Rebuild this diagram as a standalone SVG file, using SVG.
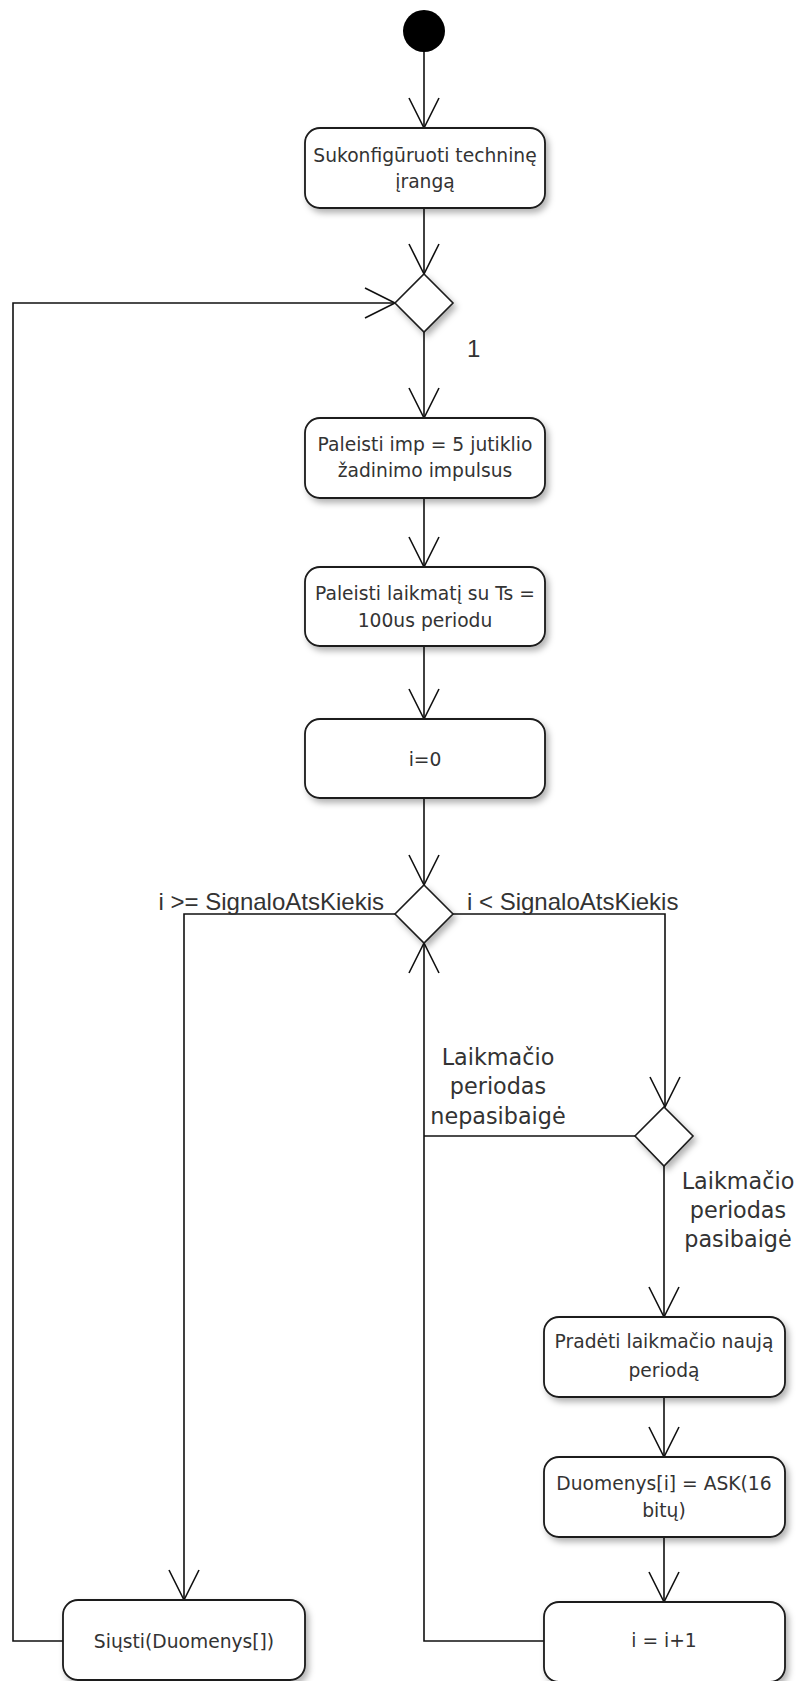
<svg xmlns="http://www.w3.org/2000/svg" width="800" height="1681" viewBox="0 0 800 1681">
  <style>
    .act { fill: #ffffff; stroke: #1a1a1a; stroke-width: 1.8; filter: url(#shadow); }
    .dec { fill: #ffffff; stroke: #1a1a1a; stroke-width: 1.6; filter: url(#shadow); }
    .edge { fill: none; stroke: #111111; stroke-width: 1.6; }
    .arrow { fill: none; stroke: #111111; stroke-width: 1.6; marker-end: url(#open); }
    .txt { font-family: "DejaVu Sans", sans-serif; font-size: 18.7px; fill: #333333; text-anchor: middle; }
    .guard { font-family: "Liberation Sans", Arial, sans-serif; font-size: 24px; fill: #333333; }
    .note { font-family: "DejaVu Sans", sans-serif; font-size: 22.3px; fill: #333333; text-anchor: middle; }
  </style>
  <defs>
    <filter id="shadow" x="-20%" y="-20%" width="150%" height="160%">
      <feDropShadow dx="3" dy="4" stdDeviation="3" flood-color="#000000" flood-opacity="0.3"/>
    </filter>
    <marker id="open" markerUnits="userSpaceOnUse" viewBox="-2 -2 34 34" markerWidth="34" markerHeight="34" refX="30" refY="15" orient="auto" overflow="visible">
      <path d="M0,0 L30,15 L0,30" fill="none" stroke="#111111" stroke-width="1.6"/>
    </marker>
  </defs>

  <!-- connectors -->
  <g id="connectors">
    <path class="arrow" d="M424,52 V128"/>
    <path class="arrow" d="M424,208 V274"/>
    <path class="arrow" d="M424,332 V418"/>
    <path class="arrow" d="M424,498 V567"/>
    <path class="arrow" d="M424,646 V719"/>
    <path class="arrow" d="M424,798 V885"/>
    <!-- left branch to send -->
    <path class="arrow" d="M395,914 H184 V1600"/>
    <!-- right branch to timer check -->
    <path class="arrow" d="M453,914 H665 V1107"/>
    <!-- timer not expired: back to loop -->
    <path class="edge" d="M635,1136 H424"/>
    <!-- timer expired -->
    <path class="arrow" d="M664,1166 V1317"/>
    <path class="arrow" d="M664,1397 V1457"/>
    <path class="arrow" d="M664,1537 V1602"/>
    <!-- increment back to loop condition -->
    <path class="arrow" d="M544,1641 H424 V943"/>
    <!-- send back to outer loop -->
    <path class="arrow" d="M63,1641 H13 V303 H395"/>
  </g>

  <!-- guard labels -->
  <g id="labels">
    <text class="guard" x="467" y="357">1</text>
    <text class="guard" x="384" y="910" text-anchor="end">i &gt;= SignaloAtsKiekis</text>
    <text class="guard" x="467" y="910">i &lt; SignaloAtsKiekis</text>
    <text class="note" x="498" y="1065">Laikmačio</text>
    <text class="note" x="498" y="1094">periodas</text>
    <text class="note" x="498" y="1124">nepasibaigė</text>
    <text class="note" x="738" y="1189">Laikmačio</text>
    <text class="note" x="738" y="1218">periodas</text>
    <text class="note" x="738" y="1247">pasibaigė</text>
  </g>

  <g id="start">
    <circle cx="424" cy="31" r="21" fill="#000000"/>
  </g>

  <g id="configure">
    <rect class="act" x="305" y="128" width="240" height="80" rx="15"/>
    <text class="txt" x="425" y="162">Sukonfigūruoti techninę</text>
    <text class="txt" x="425" y="188">įrangą</text>
  </g>

  <g id="merge">
    <polygon class="dec" points="424,274 453,303 424,332 395,303"/>
  </g>

  <g id="pulses">
    <rect class="act" x="305" y="418" width="240" height="80" rx="15"/>
    <text class="txt" x="425" y="451">Paleisti imp = 5 jutiklio</text>
    <text class="txt" x="425" y="477">žadinimo impulsus</text>
  </g>

  <g id="timer">
    <rect class="act" x="305" y="567" width="240" height="79" rx="15"/>
    <text class="txt" x="425" y="600">Paleisti laikmatį su Ts =</text>
    <text class="txt" x="425" y="627">100us periodu</text>
  </g>

  <g id="init">
    <rect class="act" x="305" y="719" width="240" height="79" rx="15"/>
    <text class="txt" x="425" y="766">i=0</text>
  </g>

  <g id="loop-check">
    <polygon class="dec" points="424,885 453,914 424,943 395,914"/>
  </g>

  <g id="timer-check">
    <polygon class="dec" points="664,1107 693,1136 664,1166 635,1136"/>
  </g>

  <g id="new-period">
    <rect class="act" x="544" y="1317" width="241" height="80" rx="15"/>
    <text class="txt" x="664" y="1348">Pradėti laikmačio naują</text>
    <text class="txt" x="664" y="1377">periodą</text>
  </g>

  <g id="read">
    <rect class="act" x="544" y="1457" width="241" height="80" rx="15"/>
    <text class="txt" x="664" y="1490">Duomenys[i] = ASK(16</text>
    <text class="txt" x="664" y="1517">bitų)</text>
  </g>

  <g id="increment">
    <rect class="act" x="544" y="1602" width="241" height="80" rx="15"/>
    <text class="txt" x="664" y="1647">i = i+1</text>
  </g>

  <g id="send">
    <rect class="act" x="63" y="1600" width="242" height="80" rx="15"/>
    <text class="txt" x="184" y="1648">Siųsti(Duomenys[])</text>
  </g>
</svg>
